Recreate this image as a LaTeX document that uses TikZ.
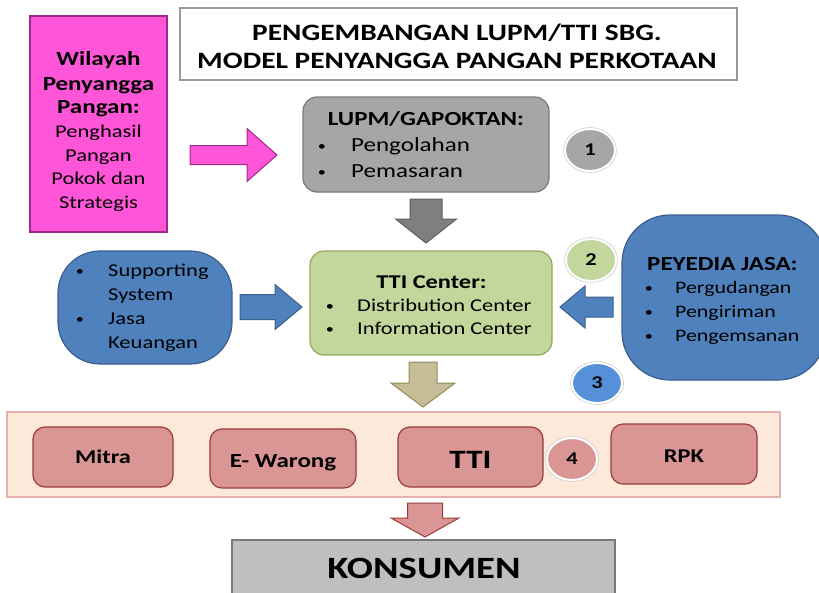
\documentclass[tikz,border=0pt]{standalone}
\usepackage{fontspec}
\setmainfont{Carlito}[FakeStretch=1.25]
\usetikzlibrary{calc,shapes.geometric}

% colours
\definecolor{pinkfill}{HTML}{FF55D8}
\definecolor{pinkline}{HTML}{9E2A86}
\definecolor{grayfill}{HTML}{A6A6A6}
\definecolor{grayline}{HTML}{7A7A7A}
\definecolor{darkarrow}{HTML}{7F7F7F}
\definecolor{darkarrowline}{HTML}{5E5E5E}
\definecolor{greenfill}{HTML}{C3D69B}
\definecolor{greenline}{HTML}{98A55E}
\definecolor{bluefill}{HTML}{4F81BD}
\definecolor{blueline}{HTML}{3A5F8C}
\definecolor{lightblue}{HTML}{5590D8}
\definecolor{khakifill}{HTML}{C4BD97}
\definecolor{khakiline}{HTML}{948A54}
\definecolor{bandfill}{HTML}{FDE9D9}
\definecolor{bandline}{HTML}{E6B0AE}
\definecolor{redfill}{HTML}{D99694}
\definecolor{redline}{HTML}{9B3B3A}
\definecolor{konfill}{HTML}{BFBFBF}

\newcommand\fs[1]{\fontsize{#1}{#1}\selectfont}

% rectangle node given by its corners: name, style, x1, y1, x2, y2
\newcommand\boxnode[6]{%
  \node[#2, minimum width={(#5)-(#3)}, minimum height={(#6)-(#4)}]
    (#1) at ({((#3)+(#5))/2},{((#4)+(#6))/2}) {};}

% block arrow: style, tail, tip, shaft half width, head half width, head length
\newcommand\blockarrow[6]{%
  \coordinate (ba-h) at ($(#3)!#6pt!(#2)$);
  \draw[#1] ($(#2)!#4pt!90:(#3)$) -- ($(ba-h)!#4pt!90:(#3)$)
    -- ($(ba-h)!#5pt!90:(#3)$) -- (#3) -- ($(ba-h)!#5pt!-90:(#3)$)
    -- ($(ba-h)!#4pt!-90:(#3)$) -- ($(#2)!#4pt!-90:(#3)$) -- cycle;}

\begin{document}
\begin{tikzpicture}[x=1pt,y=-1pt,
  shape box/.style={rectangle, inner sep=0, outer sep=0, line width=1.2pt},
  pinkbox/.style={shape box, fill=pinkfill, draw=pinkline},
  titlebox/.style={shape box, fill=white, draw=gray!80},
  graybox/.style={shape box, rounded corners=14, fill=grayfill, draw=grayline},
  greenbox/.style={shape box, rounded corners=14, fill=greenfill, draw=greenline},
  bluebox/.style={shape box, fill=bluefill, draw=blueline},
  bandbox/.style={shape box, fill=bandfill, draw=bandline, line width=1.5pt},
  redbox/.style={shape box, rounded corners=12, fill=redfill, draw=redline},
  konbox/.style={shape box, fill=konfill, draw=grayline, line width=1.5pt},
  numcirc/.style={ellipse, inner sep=0, minimum width=50, minimum height=42,
    draw=white, line width=2pt, preaction={draw=gray!35, line width=3.6pt},
    font=\fs{18}\bfseries},
  tc/.style={inner sep=0, anchor=base},
  tl/.style={inner sep=0, anchor=base west},
  dot/.style={inner sep=0, anchor=base, font=\fs{13}},
  arrowpink/.style={fill=pinkfill, draw=pinkline, line width=1pt},
  arrowgray/.style={fill=darkarrow, draw=darkarrowline, line width=1pt},
  arrowblue/.style={fill=bluefill, draw=blueline, line width=1pt},
  arrowkhaki/.style={fill=khakifill, draw=khakiline, line width=1pt},
  arrowred/.style={fill=redfill, draw=redline, line width=1pt},
]
\useasboundingbox (0,0) rectangle (819,592);
\clip (0,0) rectangle (819,592);

% ---------- block arrows ----------
\coordinate (pa-tail) at (190,155);  \coordinate (pa-tip) at (277,155);
\coordinate (ga-tail) at (426,199);  \coordinate (ga-tip) at (426,243);
\coordinate (la-tail) at (240,307);  \coordinate (la-tip) at (302,307);
\coordinate (ra-tail) at (613,307);  \coordinate (ra-tip) at (560,307);
\coordinate (ka-tail) at (423,362);  \coordinate (ka-tip) at (423,407);
\coordinate (da-tail) at (425,503);  \coordinate (da-tip) at (425,537);
\blockarrow{arrowpink}{pa-tail}{pa-tip}{9.5}{26.5}{30}
\blockarrow{arrowgray}{ga-tail}{ga-tip}{16}{30.5}{24}
\blockarrow{arrowblue}{la-tail}{la-tip}{12.5}{22.5}{27}
\blockarrow{arrowblue}{ra-tail}{ra-tip}{10}{21}{25}
\blockarrow{arrowkhaki}{ka-tail}{ka-tip}{14}{32}{24}
\blockarrow{arrowred}{da-tail}{da-tip}{17.5}{34}{19}

% ---------- Wilayah Penyangga Pangan ----------
\boxnode{wil}{pinkbox}{30}{16}{167}{232}
\node[tc, font=\fs{20}\bfseries] (wil1) at (98.5,65) {Wilayah};
\node[tc, font=\fs{20}\bfseries] (wil2) at (98.5,90) {Penyangga};
\node[tc, font=\fs{20}\bfseries] (wil3) at (98.5,113) {Pangan:};
\node[tc, font=\fs{18}] (wil4) at (98.5,137) {Penghasil};
\node[tc, font=\fs{18}] (wil5) at (98.5,161) {Pangan};
\node[tc, font=\fs{18}] (wil6) at (98.5,184) {Pokok dan};
\node[tc, font=\fs{18}] (wil7) at (98.5,208) {Strategis};

% ---------- title ----------
\boxnode{title}{titlebox}{180}{8}{737}{80}
\node[tc, font=\fs{23.5}\bfseries] (title1) at (457,40) {PENGEMBANGAN LUPM/TTI SBG.};
\node[tc, font=\fs{23.5}\bfseries] (title2) at (457,68) {MODEL PENYANGGA PANGAN PERKOTAAN};

% ---------- LUPM/GAPOKTAN ----------
\boxnode{lupm}{graybox}{303}{97}{549}{192}
\node[tc, font=\fs{20}\bfseries] (lupm0) at (426,125) {LUPM/GAPOKTAN:};
\node[dot] (lupmb1) at (322,150) {•};
\node[tl, font=\fs{20}] (lupm1) at (351,151) {Pengolahan};
\node[dot] (lupmb2) at (322,176) {•};
\node[tl, font=\fs{20}] (lupm2) at (351,177) {Pemasaran};

% ---------- TTI Center ----------
\boxnode{tticen}{greenbox}{310}{251}{552}{355}
\node[tc, font=\fs{19.5}\bfseries] (tticen0) at (431.5,288) {TTI Center:};
\node[dot] (tticenb1) at (330,310) {•};
\node[tl, font=\fs{18}] (tticen1) at (357,311) {Distribution Center};
\node[dot] (tticenb2) at (330,333) {•};
\node[tl, font=\fs{18}] (tticen2) at (357,334) {Information Center};

% ---------- Supporting System ----------
\boxnode{sup}{bluebox, rounded corners=42}{58}{251}{232}{364}
\node[dot] (supb1) at (80,275) {•};
\node[tl, font=\fs{18}] (sup1) at (108,276) {Supporting};
\node[tl, font=\fs{18}] (sup2) at (108,300) {System};
\node[dot] (supb2) at (80,323) {•};
\node[tl, font=\fs{18}] (sup3) at (108,324) {Jasa};
\node[tl, font=\fs{18}] (sup4) at (108,348) {Keuangan};

% ---------- Peyedia Jasa ----------
\boxnode{jasa}{bluebox, rounded corners=48}{622}{215}{826}{380}
\node[tl, font=\fs{20}\bfseries] (jasa0) at (647,270) {PEYEDIA JASA:};
\node[dot] (jasab1) at (649,292) {•};
\node[tl, font=\fs{17.5}] (jasa1) at (675,293) {Pergudangan};
\node[dot] (jasab2) at (649,316) {•};
\node[tl, font=\fs{17.5}] (jasa2) at (675,317) {Pengiriman};
\node[dot] (jasab3) at (649,340) {•};
\node[tl, font=\fs{17.5}] (jasa3) at (675,341) {Pengemsanan};

% ---------- outlets ----------
\boxnode{band}{bandbox}{7}{412}{780}{497}
\boxnode{mitra}{redbox}{33}{427}{173}{487}
\node[tc, font=\fs{19.5}\bfseries] (mitra-t) at (103,463) {Mitra};
\boxnode{ewarong}{redbox}{210}{429}{356}{488}
\node[tc, font=\fs{20}\bfseries] (ewarong-t) at (283,467) {E- Warong};
\boxnode{ttiout}{redbox}{398}{427}{543}{487}
\node[tc, font=\fs{26.5}\bfseries] (ttiout-t) at (470.5,468) {TTI};
\boxnode{rpk}{redbox}{611}{424}{757}{484}
\node[tc, font=\fs{19.5}\bfseries] (rpk-t) at (684,462) {RPK};

% ---------- Konsumen ----------
\boxnode{kons}{konbox}{232}{540}{615}{606}
\node[tc, font=\fs{31}\bfseries] (kons-t) at (424,578) {KONSUMEN};

% ---------- step numbers ----------
\node[numcirc, fill=grayfill] (n1) at (590,150) {1};
\node[numcirc, fill=greenfill] (n2) at (591,260) {2};
\node[numcirc, fill=lightblue, minimum height=40] (n3) at (597,383) {3};
\node[numcirc, fill=redfill] (n4) at (572,459) {4};
\end{tikzpicture}
\end{document}
